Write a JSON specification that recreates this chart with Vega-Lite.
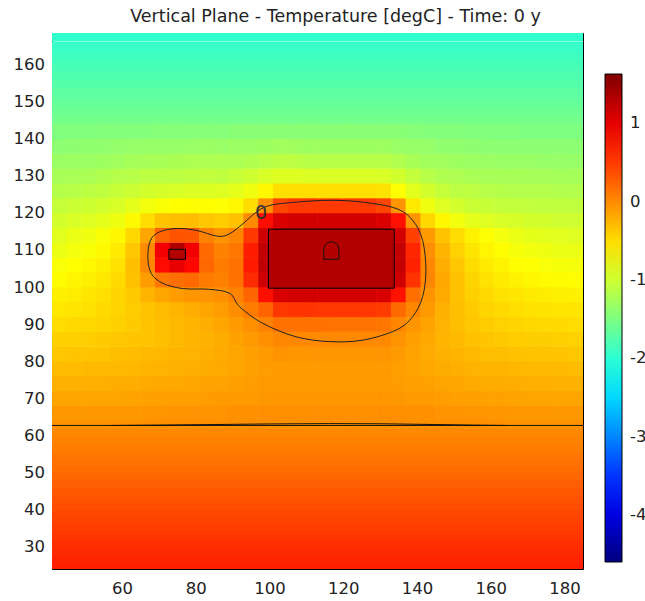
{
"$schema":"https://vega.github.io/schema/vega-lite/v6.json",
"width":531,"height":536,
"autosize":{"type":"none"},
"padding":{"left":52,"top":33,"right":62,"bottom":32},
"background":"white",
"title":{"text":"Vertical Plane - Temperature [degC] - Time: 0 y","font":"DejaVu Sans","fontSize":17.5,"fontWeight":"normal","color":"#222","offset":7,"anchor":"middle","dx":18},
"config":{"view":{"stroke":null},"font":"DejaVu Sans"},
"datasets":{
"strips":[{"y":25,"t":0.66},{"y":27,"t":0.63},{"y":29,"t":0.59},{"y":31,"t":0.56},{"y":33,"t":0.52},{"y":35,"t":0.49},{"y":37,"t":0.45},{"y":39,"t":0.42},{"y":41,"t":0.38},{"y":43,"t":0.34},{"y":45,"t":0.31},{"y":47,"t":0.27},{"y":49,"t":0.23},{"y":51,"t":0.19},{"y":53,"t":0.16},{"y":55,"t":0.12},{"y":57,"t":0.08},{"y":59,"t":0.05},{"y":61,"t":0.02},{"y":63,"t":-0.03},
{"y":145,"t":-1.55},{"y":147,"t":-1.59},{"y":149,"t":-1.63},{"y":151,"t":-1.67},{"y":153,"t":-1.70},{"y":155,"t":-1.74},{"y":157,"t":-1.78},{"y":159,"t":-1.81},{"y":161,"t":-1.85},{"y":163,"t":-1.89},{"y":165,"t":-1.92},{"y":167.5,"t":-1.96}],
"grid":[
{"x":43,"y":66,"t":-0.08},{"x":47,"y":66,"t":-0.08},{"x":51,"y":66,"t":-0.08},{"x":55,"y":66,"t":-0.08},{"x":59,"y":66,"t":-0.08},{"x":63,"y":66,"t":-0.08},{"x":67,"y":66,"t":-0.07},{"x":71,"y":66,"t":-0.06},{"x":75,"y":66,"t":-0.05},{"x":79,"y":66,"t":-0.05},{"x":83,"y":66,"t":-0.05},{"x":87,"y":66,"t":-0.05},{"x":91,"y":66,"t":-0.04},{"x":95,"y":66,"t":-0.03},{"x":99,"y":66,"t":-0.02},{"x":103,"y":66,"t":-0.02},{"x":107,"y":66,"t":-0.02},{"x":111,"y":66,"t":-0.02},{"x":115,"y":66,"t":-0.02},{"x":119,"y":66,"t":-0.02},{"x":123,"y":66,"t":-0.02},{"x":127,"y":66,"t":-0.02},{"x":131,"y":66,"t":-0.02},{"x":135,"y":66,"t":-0.02},{"x":139,"y":66,"t":-0.03},{"x":143,"y":66,"t":-0.04},{"x":147,"y":66,"t":-0.05},{"x":151,"y":66,"t":-0.05},{"x":155,"y":66,"t":-0.06},{"x":159,"y":66,"t":-0.06},{"x":163,"y":66,"t":-0.07},{"x":167,"y":66,"t":-0.08},{"x":171,"y":66,"t":-0.08},{"x":175,"y":66,"t":-0.08},{"x":179,"y":66,"t":-0.08},{"x":183,"y":66,"t":-0.08},
{"x":43,"y":70,"t":-0.16},{"x":47,"y":70,"t":-0.16},{"x":51,"y":70,"t":-0.16},{"x":55,"y":70,"t":-0.16},{"x":59,"y":70,"t":-0.16},{"x":63,"y":70,"t":-0.15},{"x":67,"y":70,"t":-0.14},{"x":71,"y":70,"t":-0.13},{"x":75,"y":70,"t":-0.13},{"x":79,"y":70,"t":-0.12},{"x":83,"y":70,"t":-0.11},{"x":87,"y":70,"t":-0.10},{"x":91,"y":70,"t":-0.10},{"x":95,"y":70,"t":-0.09},{"x":99,"y":70,"t":-0.08},{"x":103,"y":70,"t":-0.07},{"x":107,"y":70,"t":-0.07},{"x":111,"y":70,"t":-0.07},{"x":115,"y":70,"t":-0.07},{"x":119,"y":70,"t":-0.07},{"x":123,"y":70,"t":-0.07},{"x":127,"y":70,"t":-0.07},{"x":131,"y":70,"t":-0.07},{"x":135,"y":70,"t":-0.08},{"x":139,"y":70,"t":-0.09},{"x":143,"y":70,"t":-0.10},{"x":147,"y":70,"t":-0.11},{"x":151,"y":70,"t":-0.12},{"x":155,"y":70,"t":-0.13},{"x":159,"y":70,"t":-0.14},{"x":163,"y":70,"t":-0.14},{"x":167,"y":70,"t":-0.15},{"x":171,"y":70,"t":-0.16},{"x":175,"y":70,"t":-0.16},{"x":179,"y":70,"t":-0.16},{"x":183,"y":70,"t":-0.16},
{"x":43,"y":74,"t":-0.23},{"x":47,"y":74,"t":-0.23},{"x":51,"y":74,"t":-0.22},{"x":55,"y":74,"t":-0.22},{"x":59,"y":74,"t":-0.21},{"x":63,"y":74,"t":-0.21},{"x":67,"y":74,"t":-0.19},{"x":71,"y":74,"t":-0.18},{"x":75,"y":74,"t":-0.18},{"x":79,"y":74,"t":-0.17},{"x":83,"y":74,"t":-0.15},{"x":87,"y":74,"t":-0.15},{"x":91,"y":74,"t":-0.13},{"x":95,"y":74,"t":-0.11},{"x":99,"y":74,"t":-0.10},{"x":103,"y":74,"t":-0.09},{"x":107,"y":74,"t":-0.09},{"x":111,"y":74,"t":-0.09},{"x":115,"y":74,"t":-0.09},{"x":119,"y":74,"t":-0.09},{"x":123,"y":74,"t":-0.09},{"x":127,"y":74,"t":-0.09},{"x":131,"y":74,"t":-0.09},{"x":135,"y":74,"t":-0.11},{"x":139,"y":74,"t":-0.12},{"x":143,"y":74,"t":-0.14},{"x":147,"y":74,"t":-0.16},{"x":151,"y":74,"t":-0.17},{"x":155,"y":74,"t":-0.19},{"x":159,"y":74,"t":-0.20},{"x":163,"y":74,"t":-0.20},{"x":167,"y":74,"t":-0.21},{"x":171,"y":74,"t":-0.22},{"x":175,"y":74,"t":-0.22},{"x":179,"y":74,"t":-0.23},{"x":183,"y":74,"t":-0.23},
{"x":43,"y":78,"t":-0.30},{"x":47,"y":78,"t":-0.30},{"x":51,"y":78,"t":-0.29},{"x":55,"y":78,"t":-0.28},{"x":59,"y":78,"t":-0.28},{"x":63,"y":78,"t":-0.27},{"x":67,"y":78,"t":-0.25},{"x":71,"y":78,"t":-0.24},{"x":75,"y":78,"t":-0.23},{"x":79,"y":78,"t":-0.22},{"x":83,"y":78,"t":-0.20},{"x":87,"y":78,"t":-0.19},{"x":91,"y":78,"t":-0.17},{"x":95,"y":78,"t":-0.14},{"x":99,"y":78,"t":-0.11},{"x":103,"y":78,"t":-0.10},{"x":107,"y":78,"t":-0.09},{"x":111,"y":78,"t":-0.09},{"x":115,"y":78,"t":-0.09},{"x":119,"y":78,"t":-0.09},{"x":123,"y":78,"t":-0.09},{"x":127,"y":78,"t":-0.09},{"x":131,"y":78,"t":-0.10},{"x":135,"y":78,"t":-0.12},{"x":139,"y":78,"t":-0.15},{"x":143,"y":78,"t":-0.18},{"x":147,"y":78,"t":-0.20},{"x":151,"y":78,"t":-0.22},{"x":155,"y":78,"t":-0.24},{"x":159,"y":78,"t":-0.25},{"x":163,"y":78,"t":-0.26},{"x":167,"y":78,"t":-0.27},{"x":171,"y":78,"t":-0.28},{"x":175,"y":78,"t":-0.29},{"x":179,"y":78,"t":-0.29},{"x":183,"y":78,"t":-0.30},
{"x":43,"y":82,"t":-0.37},{"x":47,"y":82,"t":-0.36},{"x":51,"y":82,"t":-0.36},{"x":55,"y":82,"t":-0.34},{"x":59,"y":82,"t":-0.32},{"x":63,"y":82,"t":-0.30},{"x":67,"y":82,"t":-0.29},{"x":71,"y":82,"t":-0.27},{"x":75,"y":82,"t":-0.26},{"x":79,"y":82,"t":-0.24},{"x":83,"y":82,"t":-0.22},{"x":87,"y":82,"t":-0.19},{"x":91,"y":82,"t":-0.16},{"x":95,"y":82,"t":-0.13},{"x":99,"y":82,"t":-0.09},{"x":103,"y":82,"t":-0.05},{"x":107,"y":82,"t":-0.06},{"x":111,"y":82,"t":-0.06},{"x":115,"y":82,"t":-0.06},{"x":119,"y":82,"t":-0.06},{"x":123,"y":82,"t":-0.06},{"x":127,"y":82,"t":-0.06},{"x":131,"y":82,"t":-0.06},{"x":135,"y":82,"t":-0.10},{"x":139,"y":82,"t":-0.15},{"x":143,"y":82,"t":-0.19},{"x":147,"y":82,"t":-0.23},{"x":151,"y":82,"t":-0.26},{"x":155,"y":82,"t":-0.29},{"x":159,"y":82,"t":-0.31},{"x":163,"y":82,"t":-0.32},{"x":167,"y":82,"t":-0.33},{"x":171,"y":82,"t":-0.34},{"x":175,"y":82,"t":-0.35},{"x":179,"y":82,"t":-0.36},{"x":183,"y":82,"t":-0.37},
{"x":43,"y":86,"t":-0.42},{"x":47,"y":86,"t":-0.42},{"x":51,"y":86,"t":-0.41},{"x":55,"y":86,"t":-0.39},{"x":59,"y":86,"t":-0.37},{"x":63,"y":86,"t":-0.36},{"x":67,"y":86,"t":-0.34},{"x":71,"y":86,"t":-0.31},{"x":75,"y":86,"t":-0.29},{"x":79,"y":86,"t":-0.26},{"x":83,"y":86,"t":-0.23},{"x":87,"y":86,"t":-0.20},{"x":91,"y":86,"t":-0.14},{"x":95,"y":86,"t":-0.09},{"x":99,"y":86,"t":-0.03},{"x":103,"y":86,"t":0.03},{"x":107,"y":86,"t":0.02},{"x":111,"y":86,"t":0.01},{"x":115,"y":86,"t":0.01},{"x":119,"y":86,"t":0.01},{"x":123,"y":86,"t":0.01},{"x":127,"y":86,"t":0.01},{"x":131,"y":86,"t":0.01},{"x":135,"y":86,"t":-0.05},{"x":139,"y":86,"t":-0.12},{"x":143,"y":86,"t":-0.18},{"x":147,"y":86,"t":-0.25},{"x":151,"y":86,"t":-0.29},{"x":155,"y":86,"t":-0.33},{"x":159,"y":86,"t":-0.36},{"x":163,"y":86,"t":-0.38},{"x":167,"y":86,"t":-0.40},{"x":171,"y":86,"t":-0.41},{"x":175,"y":86,"t":-0.41},{"x":179,"y":86,"t":-0.42},{"x":183,"y":86,"t":-0.43},
{"x":43,"y":90,"t":-0.50},{"x":47,"y":90,"t":-0.48},{"x":51,"y":90,"t":-0.47},{"x":55,"y":90,"t":-0.45},{"x":59,"y":90,"t":-0.42},{"x":63,"y":90,"t":-0.39},{"x":67,"y":90,"t":-0.35},{"x":71,"y":90,"t":-0.31},{"x":75,"y":90,"t":-0.28},{"x":79,"y":90,"t":-0.25},{"x":83,"y":90,"t":-0.21},{"x":87,"y":90,"t":-0.16},{"x":91,"y":90,"t":-0.09},{"x":95,"y":90,"t":-0.02},{"x":99,"y":90,"t":0.06},{"x":103,"y":90,"t":0.15},{"x":107,"y":90,"t":0.16},{"x":111,"y":90,"t":0.15},{"x":115,"y":90,"t":0.15},{"x":119,"y":90,"t":0.14},{"x":123,"y":90,"t":0.14},{"x":127,"y":90,"t":0.14},{"x":131,"y":90,"t":0.13},{"x":135,"y":90,"t":0.03},{"x":139,"y":90,"t":-0.06},{"x":143,"y":90,"t":-0.15},{"x":147,"y":90,"t":-0.24},{"x":151,"y":90,"t":-0.31},{"x":155,"y":90,"t":-0.37},{"x":159,"y":90,"t":-0.40},{"x":163,"y":90,"t":-0.43},{"x":167,"y":90,"t":-0.45},{"x":171,"y":90,"t":-0.47},{"x":175,"y":90,"t":-0.48},{"x":179,"y":90,"t":-0.49},{"x":183,"y":90,"t":-0.50},
{"x":43,"y":94,"t":-0.57},{"x":47,"y":94,"t":-0.55},{"x":51,"y":94,"t":-0.52},{"x":55,"y":94,"t":-0.49},{"x":59,"y":94,"t":-0.45},{"x":63,"y":94,"t":-0.40},{"x":67,"y":94,"t":-0.35},{"x":71,"y":94,"t":-0.30},{"x":75,"y":94,"t":-0.26},{"x":79,"y":94,"t":-0.21},{"x":83,"y":94,"t":-0.16},{"x":87,"y":94,"t":-0.11},{"x":91,"y":94,"t":-0.01},{"x":95,"y":94,"t":0.09},{"x":99,"y":94,"t":0.24},{"x":103,"y":94,"t":0.51},{"x":107,"y":94,"t":0.53},{"x":111,"y":94,"t":0.53},{"x":115,"y":94,"t":0.52},{"x":119,"y":94,"t":0.52},{"x":123,"y":94,"t":0.52},{"x":127,"y":94,"t":0.52},{"x":131,"y":94,"t":0.49},{"x":135,"y":94,"t":0.20},{"x":139,"y":94,"t":0.03},{"x":143,"y":94,"t":-0.10},{"x":147,"y":94,"t":-0.23},{"x":151,"y":94,"t":-0.32},{"x":155,"y":94,"t":-0.39},{"x":159,"y":94,"t":-0.45},{"x":163,"y":94,"t":-0.48},{"x":167,"y":94,"t":-0.51},{"x":171,"y":94,"t":-0.53},{"x":175,"y":94,"t":-0.54},{"x":179,"y":94,"t":-0.55},{"x":183,"y":94,"t":-0.56},
{"x":43,"y":98,"t":-0.61},{"x":47,"y":98,"t":-0.60},{"x":51,"y":98,"t":-0.56},{"x":55,"y":98,"t":-0.52},{"x":59,"y":98,"t":-0.45},{"x":63,"y":98,"t":-0.39},{"x":67,"y":98,"t":-0.25},{"x":71,"y":98,"t":-0.16},{"x":75,"y":98,"t":-0.11},{"x":79,"y":98,"t":-0.07},{"x":83,"y":98,"t":-0.06},{"x":87,"y":98,"t":-0.03},{"x":91,"y":98,"t":0.05},{"x":95,"y":98,"t":0.23},{"x":99,"y":98,"t":0.76},{"x":103,"y":98,"t":1.09},{"x":107,"y":98,"t":1.12},{"x":111,"y":98,"t":1.12},{"x":115,"y":98,"t":1.12},{"x":119,"y":98,"t":1.12},{"x":123,"y":98,"t":1.12},{"x":127,"y":98,"t":1.12},{"x":131,"y":98,"t":1.09},{"x":135,"y":98,"t":0.74},{"x":139,"y":98,"t":0.17},{"x":143,"y":98,"t":-0.05},{"x":147,"y":98,"t":-0.19},{"x":151,"y":98,"t":-0.33},{"x":155,"y":98,"t":-0.42},{"x":159,"y":98,"t":-0.48},{"x":163,"y":98,"t":-0.53},{"x":167,"y":98,"t":-0.56},{"x":171,"y":98,"t":-0.59},{"x":175,"y":98,"t":-0.60},{"x":179,"y":98,"t":-0.62},{"x":183,"y":98,"t":-0.63},
{"x":43,"y":102,"t":-0.69},{"x":47,"y":102,"t":-0.65},{"x":51,"y":102,"t":-0.62},{"x":55,"y":102,"t":-0.57},{"x":59,"y":102,"t":-0.49},{"x":63,"y":102,"t":-0.33},{"x":67,"y":102,"t":-0.11},{"x":71,"y":102,"t":0.12},{"x":75,"y":102,"t":0.18},{"x":79,"y":102,"t":0.20},{"x":83,"y":102,"t":0.10},{"x":87,"y":102,"t":0.06},{"x":91,"y":102,"t":0.15},{"x":95,"y":102,"t":0.59},{"x":99,"y":102,"t":1.14},{"x":103,"y":102,"t":1.32},{"x":107,"y":102,"t":1.32},{"x":111,"y":102,"t":1.32},{"x":115,"y":102,"t":1.32},{"x":119,"y":102,"t":1.32},{"x":123,"y":102,"t":1.32},{"x":127,"y":102,"t":1.32},{"x":131,"y":102,"t":1.32},{"x":135,"y":102,"t":1.13},{"x":139,"y":102,"t":0.54},{"x":143,"y":102,"t":0.03},{"x":147,"y":102,"t":-0.18},{"x":151,"y":102,"t":-0.33},{"x":155,"y":102,"t":-0.45},{"x":159,"y":102,"t":-0.53},{"x":163,"y":102,"t":-0.59},{"x":167,"y":102,"t":-0.63},{"x":171,"y":102,"t":-0.66},{"x":175,"y":102,"t":-0.68},{"x":179,"y":102,"t":-0.69},{"x":183,"y":102,"t":-0.70},
{"x":43,"y":106,"t":-0.75},{"x":47,"y":106,"t":-0.71},{"x":51,"y":106,"t":-0.67},{"x":55,"y":106,"t":-0.62},{"x":59,"y":106,"t":-0.53},{"x":63,"y":106,"t":-0.32},{"x":67,"y":106,"t":0.02},{"x":71,"y":106,"t":0.79},{"x":75,"y":106,"t":0.99},{"x":79,"y":106,"t":0.81},{"x":83,"y":106,"t":0.22},{"x":87,"y":106,"t":0.09},{"x":91,"y":106,"t":0.16},{"x":95,"y":106,"t":0.69},{"x":99,"y":106,"t":1.22},{"x":103,"y":106,"t":1.32},{"x":107,"y":106,"t":1.32},{"x":111,"y":106,"t":1.32},{"x":115,"y":106,"t":1.32},{"x":119,"y":106,"t":1.32},{"x":123,"y":106,"t":1.32},{"x":127,"y":106,"t":1.32},{"x":131,"y":106,"t":1.32},{"x":135,"y":106,"t":1.21},{"x":139,"y":106,"t":0.64},{"x":143,"y":106,"t":0.02},{"x":147,"y":106,"t":-0.21},{"x":151,"y":106,"t":-0.37},{"x":155,"y":106,"t":-0.50},{"x":159,"y":106,"t":-0.59},{"x":163,"y":106,"t":-0.64},{"x":167,"y":106,"t":-0.70},{"x":171,"y":106,"t":-0.72},{"x":175,"y":106,"t":-0.75},{"x":179,"y":106,"t":-0.76},{"x":183,"y":106,"t":-0.77},
{"x":43,"y":110,"t":-0.83},{"x":47,"y":110,"t":-0.78},{"x":51,"y":110,"t":-0.74},{"x":55,"y":110,"t":-0.68},{"x":59,"y":110,"t":-0.58},{"x":63,"y":110,"t":-0.37},{"x":67,"y":110,"t":0.00},{"x":71,"y":110,"t":0.92},{"x":75,"y":110,"t":1.32},{"x":79,"y":110,"t":0.93},{"x":83,"y":110,"t":0.21},{"x":87,"y":110,"t":0.05},{"x":91,"y":110,"t":0.12},{"x":95,"y":110,"t":0.67},{"x":99,"y":110,"t":1.22},{"x":103,"y":110,"t":1.32},{"x":107,"y":110,"t":1.32},{"x":111,"y":110,"t":1.32},{"x":115,"y":110,"t":1.32},{"x":119,"y":110,"t":1.32},{"x":123,"y":110,"t":1.32},{"x":127,"y":110,"t":1.32},{"x":131,"y":110,"t":1.32},{"x":135,"y":110,"t":1.21},{"x":139,"y":110,"t":0.62},{"x":143,"y":110,"t":-0.02},{"x":147,"y":110,"t":-0.26},{"x":151,"y":110,"t":-0.43},{"x":155,"y":110,"t":-0.56},{"x":159,"y":110,"t":-0.65},{"x":163,"y":110,"t":-0.70},{"x":167,"y":110,"t":-0.77},{"x":171,"y":110,"t":-0.79},{"x":175,"y":110,"t":-0.81},{"x":179,"y":110,"t":-0.83},{"x":183,"y":110,"t":-0.84},
{"x":43,"y":114,"t":-0.90},{"x":47,"y":114,"t":-0.84},{"x":51,"y":114,"t":-0.80},{"x":55,"y":114,"t":-0.74},{"x":59,"y":114,"t":-0.66},{"x":63,"y":114,"t":-0.47},{"x":67,"y":114,"t":-0.16},{"x":71,"y":114,"t":0.25},{"x":75,"y":114,"t":0.34},{"x":79,"y":114,"t":0.32},{"x":83,"y":114,"t":0.06},{"x":87,"y":114,"t":-0.05},{"x":91,"y":114,"t":0.04},{"x":95,"y":114,"t":0.51},{"x":99,"y":114,"t":1.13},{"x":103,"y":114,"t":1.32},{"x":107,"y":114,"t":1.32},{"x":111,"y":114,"t":1.32},{"x":115,"y":114,"t":1.32},{"x":119,"y":114,"t":1.32},{"x":123,"y":114,"t":1.32},{"x":127,"y":114,"t":1.32},{"x":131,"y":114,"t":1.32},{"x":135,"y":114,"t":1.12},{"x":139,"y":114,"t":0.46},{"x":143,"y":114,"t":-0.10},{"x":147,"y":114,"t":-0.34},{"x":151,"y":114,"t":-0.50},{"x":155,"y":114,"t":-0.63},{"x":159,"y":114,"t":-0.72},{"x":163,"y":114,"t":-0.78},{"x":167,"y":114,"t":-0.83},{"x":171,"y":114,"t":-0.86},{"x":175,"y":114,"t":-0.88},{"x":179,"y":114,"t":-0.90},{"x":183,"y":114,"t":-0.91},
{"x":43,"y":118,"t":-0.98},{"x":47,"y":118,"t":-0.94},{"x":51,"y":118,"t":-0.91},{"x":55,"y":118,"t":-0.87},{"x":59,"y":118,"t":-0.81},{"x":63,"y":118,"t":-0.68},{"x":67,"y":118,"t":-0.50},{"x":71,"y":118,"t":-0.35},{"x":75,"y":118,"t":-0.31},{"x":79,"y":118,"t":-0.30},{"x":83,"y":118,"t":-0.37},{"x":87,"y":118,"t":-0.40},{"x":91,"y":118,"t":-0.33},{"x":95,"y":118,"t":0.01},{"x":99,"y":118,"t":0.77},{"x":103,"y":118,"t":1.09},{"x":107,"y":118,"t":1.12},{"x":111,"y":118,"t":1.12},{"x":115,"y":118,"t":1.12},{"x":119,"y":118,"t":1.12},{"x":123,"y":118,"t":1.12},{"x":127,"y":118,"t":1.12},{"x":131,"y":118,"t":1.09},{"x":135,"y":118,"t":0.76},{"x":139,"y":118,"t":-0.06},{"x":143,"y":118,"t":-0.47},{"x":147,"y":118,"t":-0.66},{"x":151,"y":118,"t":-0.79},{"x":155,"y":118,"t":-0.87},{"x":159,"y":118,"t":-0.91},{"x":163,"y":118,"t":-0.94},{"x":167,"y":118,"t":-0.96},{"x":171,"y":118,"t":-0.98},{"x":175,"y":118,"t":-0.99},{"x":179,"y":118,"t":-1.00},{"x":183,"y":118,"t":-1.00},
{"x":43,"y":122,"t":-1.06},{"x":47,"y":122,"t":-1.03},{"x":51,"y":122,"t":-1.01},{"x":55,"y":122,"t":-0.98},{"x":59,"y":122,"t":-0.94},{"x":63,"y":122,"t":-0.87},{"x":67,"y":122,"t":-0.78},{"x":71,"y":122,"t":-0.74},{"x":75,"y":122,"t":-0.71},{"x":79,"y":122,"t":-0.70},{"x":83,"y":122,"t":-0.70},{"x":87,"y":122,"t":-0.72},{"x":91,"y":122,"t":-0.67},{"x":95,"y":122,"t":-0.50},{"x":99,"y":122,"t":-0.02},{"x":103,"y":122,"t":0.42},{"x":107,"y":122,"t":0.50},{"x":111,"y":122,"t":0.50},{"x":115,"y":122,"t":0.50},{"x":119,"y":122,"t":0.50},{"x":123,"y":122,"t":0.50},{"x":127,"y":122,"t":0.50},{"x":131,"y":122,"t":0.42},{"x":135,"y":122,"t":-0.06},{"x":139,"y":122,"t":-0.58},{"x":143,"y":122,"t":-0.80},{"x":147,"y":122,"t":-0.91},{"x":151,"y":122,"t":-0.98},{"x":155,"y":122,"t":-1.03},{"x":159,"y":122,"t":-1.05},{"x":163,"y":122,"t":-1.07},{"x":167,"y":122,"t":-1.07},{"x":171,"y":122,"t":-1.08},{"x":175,"y":122,"t":-1.09},{"x":179,"y":122,"t":-1.09},{"x":183,"y":122,"t":-1.09},
{"x":43,"y":126,"t":-1.16},{"x":47,"y":126,"t":-1.14},{"x":51,"y":126,"t":-1.12},{"x":55,"y":126,"t":-1.09},{"x":59,"y":126,"t":-1.05},{"x":63,"y":126,"t":-1.02},{"x":67,"y":126,"t":-0.98},{"x":71,"y":126,"t":-0.96},{"x":75,"y":126,"t":-0.94},{"x":79,"y":126,"t":-0.92},{"x":83,"y":126,"t":-0.92},{"x":87,"y":126,"t":-0.91},{"x":91,"y":126,"t":-0.87},{"x":95,"y":126,"t":-0.80},{"x":99,"y":126,"t":-0.67},{"x":103,"y":126,"t":-0.51},{"x":107,"y":126,"t":-0.51},{"x":111,"y":126,"t":-0.51},{"x":115,"y":126,"t":-0.51},{"x":119,"y":126,"t":-0.51},{"x":123,"y":126,"t":-0.51},{"x":127,"y":126,"t":-0.51},{"x":131,"y":126,"t":-0.54},{"x":135,"y":126,"t":-0.72},{"x":139,"y":126,"t":-0.88},{"x":143,"y":126,"t":-0.98},{"x":147,"y":126,"t":-1.06},{"x":151,"y":126,"t":-1.11},{"x":155,"y":126,"t":-1.12},{"x":159,"y":126,"t":-1.15},{"x":163,"y":126,"t":-1.16},{"x":167,"y":126,"t":-1.17},{"x":171,"y":126,"t":-1.17},{"x":175,"y":126,"t":-1.17},{"x":179,"y":126,"t":-1.18},{"x":183,"y":126,"t":-1.18},
{"x":43,"y":130,"t":-1.24},{"x":47,"y":130,"t":-1.23},{"x":51,"y":130,"t":-1.22},{"x":55,"y":130,"t":-1.19},{"x":59,"y":130,"t":-1.16},{"x":63,"y":130,"t":-1.14},{"x":67,"y":130,"t":-1.12},{"x":71,"y":130,"t":-1.11},{"x":75,"y":130,"t":-1.11},{"x":79,"y":130,"t":-1.10},{"x":83,"y":130,"t":-1.08},{"x":87,"y":130,"t":-1.09},{"x":91,"y":130,"t":-1.05},{"x":95,"y":130,"t":-1.01},{"x":99,"y":130,"t":-0.95},{"x":103,"y":130,"t":-0.91},{"x":107,"y":130,"t":-0.91},{"x":111,"y":130,"t":-0.92},{"x":115,"y":130,"t":-0.93},{"x":119,"y":130,"t":-0.93},{"x":123,"y":130,"t":-0.93},{"x":127,"y":130,"t":-0.93},{"x":131,"y":130,"t":-0.94},{"x":135,"y":130,"t":-0.99},{"x":139,"y":130,"t":-1.07},{"x":143,"y":130,"t":-1.14},{"x":147,"y":130,"t":-1.19},{"x":151,"y":130,"t":-1.20},{"x":155,"y":130,"t":-1.23},{"x":159,"y":130,"t":-1.24},{"x":163,"y":130,"t":-1.24},{"x":167,"y":130,"t":-1.24},{"x":171,"y":130,"t":-1.25},{"x":175,"y":130,"t":-1.25},{"x":179,"y":130,"t":-1.26},{"x":183,"y":130,"t":-1.26},
{"x":43,"y":134,"t":-1.32},{"x":47,"y":134,"t":-1.31},{"x":51,"y":134,"t":-1.31},{"x":55,"y":134,"t":-1.30},{"x":59,"y":134,"t":-1.28},{"x":63,"y":134,"t":-1.25},{"x":67,"y":134,"t":-1.24},{"x":71,"y":134,"t":-1.23},{"x":75,"y":134,"t":-1.22},{"x":79,"y":134,"t":-1.21},{"x":83,"y":134,"t":-1.21},{"x":87,"y":134,"t":-1.20},{"x":91,"y":134,"t":-1.21},{"x":95,"y":134,"t":-1.19},{"x":99,"y":134,"t":-1.15},{"x":103,"y":134,"t":-1.11},{"x":107,"y":134,"t":-1.12},{"x":111,"y":134,"t":-1.14},{"x":115,"y":134,"t":-1.14},{"x":119,"y":134,"t":-1.14},{"x":123,"y":134,"t":-1.14},{"x":127,"y":134,"t":-1.14},{"x":131,"y":134,"t":-1.14},{"x":135,"y":134,"t":-1.18},{"x":139,"y":134,"t":-1.23},{"x":143,"y":134,"t":-1.27},{"x":147,"y":134,"t":-1.28},{"x":151,"y":134,"t":-1.30},{"x":155,"y":134,"t":-1.31},{"x":159,"y":134,"t":-1.32},{"x":163,"y":134,"t":-1.33},{"x":167,"y":134,"t":-1.33},{"x":171,"y":134,"t":-1.33},{"x":175,"y":134,"t":-1.34},{"x":179,"y":134,"t":-1.34},{"x":183,"y":134,"t":-1.34},
{"x":43,"y":138,"t":-1.40},{"x":47,"y":138,"t":-1.39},{"x":51,"y":138,"t":-1.38},{"x":55,"y":138,"t":-1.38},{"x":59,"y":138,"t":-1.36},{"x":63,"y":138,"t":-1.35},{"x":67,"y":138,"t":-1.34},{"x":71,"y":138,"t":-1.34},{"x":75,"y":138,"t":-1.34},{"x":79,"y":138,"t":-1.33},{"x":83,"y":138,"t":-1.32},{"x":87,"y":138,"t":-1.33},{"x":91,"y":138,"t":-1.31},{"x":95,"y":138,"t":-1.31},{"x":99,"y":138,"t":-1.30},{"x":103,"y":138,"t":-1.28},{"x":107,"y":138,"t":-1.29},{"x":111,"y":138,"t":-1.30},{"x":115,"y":138,"t":-1.30},{"x":119,"y":138,"t":-1.30},{"x":123,"y":138,"t":-1.30},{"x":127,"y":138,"t":-1.30},{"x":131,"y":138,"t":-1.30},{"x":135,"y":138,"t":-1.33},{"x":139,"y":138,"t":-1.34},{"x":143,"y":138,"t":-1.35},{"x":147,"y":138,"t":-1.38},{"x":151,"y":138,"t":-1.38},{"x":155,"y":138,"t":-1.39},{"x":159,"y":138,"t":-1.40},{"x":163,"y":138,"t":-1.40},{"x":167,"y":138,"t":-1.40},{"x":171,"y":138,"t":-1.41},{"x":175,"y":138,"t":-1.41},{"x":179,"y":138,"t":-1.41},{"x":183,"y":138,"t":-1.41},
{"x":43,"y":142,"t":-1.48},{"x":47,"y":142,"t":-1.47},{"x":51,"y":142,"t":-1.47},{"x":55,"y":142,"t":-1.46},{"x":59,"y":142,"t":-1.46},{"x":63,"y":142,"t":-1.45},{"x":67,"y":142,"t":-1.45},{"x":71,"y":142,"t":-1.44},{"x":75,"y":142,"t":-1.44},{"x":79,"y":142,"t":-1.44},{"x":83,"y":142,"t":-1.44},{"x":87,"y":142,"t":-1.44},{"x":91,"y":142,"t":-1.43},{"x":95,"y":142,"t":-1.43},{"x":99,"y":142,"t":-1.42},{"x":103,"y":142,"t":-1.42},{"x":107,"y":142,"t":-1.42},{"x":111,"y":142,"t":-1.42},{"x":115,"y":142,"t":-1.42},{"x":119,"y":142,"t":-1.42},{"x":123,"y":142,"t":-1.42},{"x":127,"y":142,"t":-1.42},{"x":131,"y":142,"t":-1.42},{"x":135,"y":142,"t":-1.43},{"x":139,"y":142,"t":-1.44},{"x":143,"y":142,"t":-1.45},{"x":147,"y":142,"t":-1.46},{"x":151,"y":142,"t":-1.46},{"x":155,"y":142,"t":-1.47},{"x":159,"y":142,"t":-1.47},{"x":163,"y":142,"t":-1.48},{"x":167,"y":142,"t":-1.48},{"x":171,"y":142,"t":-1.49},{"x":175,"y":142,"t":-1.49},{"x":179,"y":142,"t":-1.49},{"x":183,"y":142,"t":-1.49}
],
"boxes":[{"x":99.7,"x2":133.8,"y":99.7,"y2":115.6,"t":1.32},{"x":72.7,"x2":77.2,"y":107.5,"y2":110.2,"t":1.32}],
"contour":[{"o":1,"x":67.0,"y":108.1},{"o":2,"x":67.7,"y":112.6},{"o":3,"x":70.2,"y":114.9},{"o":4,"x":74.7,"y":115.8},{"o":5,"x":80.1,"y":115.3},{"o":6,"x":86.0,"y":113.7},{"o":7,"x":89.2,"y":114.4},{"o":8,"x":92.8,"y":117.1},{"o":9,"x":96.4,"y":120.2},{"o":10,"x":100.0,"y":122.0},{"o":11,"x":107.2,"y":122.9},{"o":12,"x":116.3,"y":123.4},{"o":13,"x":125.3,"y":122.9},{"o":14,"x":134.3,"y":121.2},{"o":15,"x":138.8,"y":118.0},{"o":16,"x":141.5,"y":112.6},{"o":17,"x":142.4,"y":104.5},{"o":18,"x":141.5,"y":97.4},{"o":19,"x":138.8,"y":92.0},{"o":20,"x":134.3,"y":88.4},{"o":21,"x":125.3,"y":85.7},{"o":22,"x":116.3,"y":85.3},{"o":23,"x":107.2,"y":86.6},{"o":24,"x":98.2,"y":90.2},{"o":25,"x":91.9,"y":94.7},{"o":26,"x":89.2,"y":98.3},{"o":27,"x":83.7,"y":99.4},{"o":28,"x":76.5,"y":99.6},{"o":29,"x":71.1,"y":101.0},{"o":30,"x":67.9,"y":103.7}],
"lines":[{"g":"h","o":1,"x":41,"y":62.7},{"g":"h","o":2,"x":185,"y":62.7},
{"g":"k","o":1,"x":57,"y":62.7},{"g":"k","o":2,"x":70,"y":62.8},{"g":"k","o":3,"x":85,"y":62.95},{"g":"k","o":4,"x":100,"y":63.1},{"g":"k","o":5,"x":116,"y":63.2},{"g":"k","o":6,"x":130,"y":63.15},{"g":"k","o":7,"x":145,"y":62.95},{"g":"k","o":8,"x":155,"y":62.8},{"g":"k","o":9,"x":164,"y":62.7},
{"g":"a","o":1,"x":114.7,"y":107.5},{"g":"a","o":2,"x":114.7,"y":110.2},{"g":"a","o":3,"x":114.97,"y":111.22},{"g":"a","o":4,"x":115.72,"y":111.97},{"g":"a","o":5,"x":116.75,"y":112.25},{"g":"a","o":6,"x":117.78,"y":111.97},{"g":"a","o":7,"x":118.53,"y":111.22},{"g":"a","o":8,"x":118.8,"y":110.2},{"g":"a","o":9,"x":118.8,"y":107.5},{"g":"a","o":10,"x":114.7,"y":107.5}],
"labels":[{"x":97.7,"y":120.1,"s":"0"}]
},
"resolve":{"axis":{"x":"independent","y":"independent"}},
"layer":[
{"data":{"name":"strips"},"mark":{"type":"rect","height":9,"strokeWidth":0,"clip":true},
 "encoding":{
  "x":{"datum":41,"type":"quantitative","scale":{"domain":[41,185],"nice":false,"zero":false},"axis":null},
  "x2":{"datum":185},
  "y":{"field":"y","type":"quantitative","scale":{"domain":[24,168.5],"nice":false,"zero":false},"axis":null},
  "color":{"field":"t","type":"quantitative","scale":{"type":"linear","domain":[-4.6,-3.82,-2.26,-0.71,0.85,1.63],"range":["#00007f","#0000ff","#00ffff","#ffff00","#ff0000","#7f0000"],"interpolate":"rgb","clamp":true},
   "legend":{"orient":"none","legendX":553,"legendY":41,"direction":"vertical","gradientLength":488,"gradientThickness":17,"title":null,"values":[-4,-3,-2,-1,0,1],"labelFontSize":16.5,"labelFont":"DejaVu Sans","labelColor":"#222","labelOffset":8,"labelOverlap":false,"gradientStrokeColor":"#000","gradientStrokeWidth":1,"labelExpr":"datum.value < 0 ? '-' + abs(datum.value) : '' + datum.value"}}
 }},
{"data":{"name":"grid"},"mark":{"type":"rect","width":15.4,"height":15.4,"strokeWidth":0,"clip":true},
 "encoding":{
  "x":{"field":"x","type":"quantitative","scale":{"domain":[41,185],"nice":false,"zero":false},
   "axis":{"orient":"bottom","values":[60,80,100,120,140,160,180],"title":null,"grid":false,"tickSize":-5,"tickColor":"#000","domainColor":"#000","labelPadding":16,"labelFont":"DejaVu Sans","labelFontSize":16.5,"labelColor":"#222"}},
  "y":{"field":"y","type":"quantitative","scale":{"domain":[24,168.5],"nice":false,"zero":false},
   "axis":{"orient":"left","values":[30,40,50,60,70,80,90,100,110,120,130,140,150,160],"title":null,"grid":false,"tickSize":-5,"tickColor":"#000","domainColor":"#000","labelPadding":12.5,"labelFont":"DejaVu Sans","labelFontSize":16.5,"labelColor":"#222"}},
  "color":{"field":"t","type":"quantitative"}
 }},
{"data":{"name":"boxes"},"mark":{"type":"rect","stroke":"#000","strokeWidth":1},
 "encoding":{
  "x":{"field":"x","type":"quantitative","axis":null},"x2":{"field":"x2"},
  "y":{"field":"y","type":"quantitative","axis":null},"y2":{"field":"y2"},
  "color":{"field":"t","type":"quantitative"}
 }},
{"data":{"name":"contour"},"mark":{"type":"line","interpolate":"cardinal-closed","color":"#222","strokeWidth":1},
 "encoding":{
  "x":{"field":"x","type":"quantitative","axis":{"orient":"top","values":[60,80,100,120,140,160,180],"labels":false,"title":null,"grid":false,"tickSize":-5,"tickColor":"#000","domainColor":"#000"}},
  "y":{"field":"y","type":"quantitative","axis":{"orient":"right","values":[30,40,50,60,70,80,90,100,110,120,130,140,150,160],"labels":false,"title":null,"grid":false,"tickSize":-5,"tickColor":"#000","domainColor":"#000"}},
  "order":{"field":"o","type":"quantitative"}
 }},
{"data":{"name":"lines"},"mark":{"type":"line","color":"#111","strokeWidth":1},
 "encoding":{
  "x":{"field":"x","type":"quantitative","axis":null},
  "y":{"field":"y","type":"quantitative","axis":null},
  "detail":{"field":"g","type":"nominal"},
  "order":{"field":"o","type":"quantitative"}
 }},
{"data":{"name":"labels"},"mark":{"type":"text","font":"DejaVu Sans","fontSize":19,"color":"#333","align":"center","baseline":"middle"},
 "encoding":{
  "x":{"field":"x","type":"quantitative","axis":null},
  "y":{"field":"y","type":"quantitative","axis":null},
  "text":{"field":"s"}
 }}
]
}
